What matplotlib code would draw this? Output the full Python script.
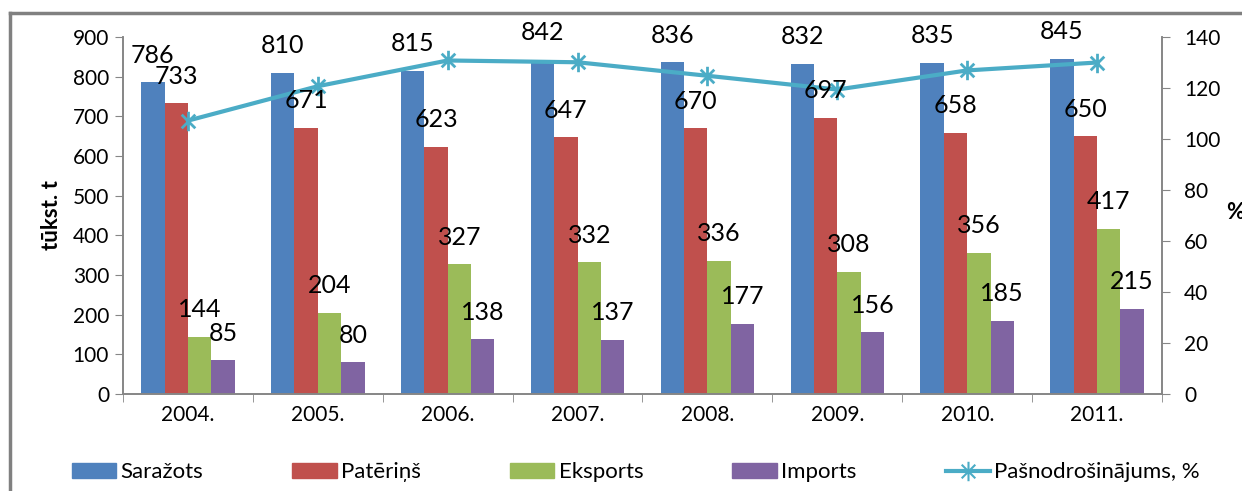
import numpy as np
import matplotlib
matplotlib.use("Agg")
import matplotlib.pyplot as plt
from matplotlib.path import Path
from matplotlib.patches import Patch
from matplotlib.lines import Line2D

plt.rcParams['font.family'] = ['Lato', 'DejaVu Sans']

years = ['2004.', '2005.', '2006.', '2007.', '2008.', '2009.', '2010.', '2011.']
sarazots = [786, 810, 815, 842, 836, 832, 835, 845]
pateris = [733, 671, 623, 647, 670, 697, 658, 650]
eksports = [144, 204, 327, 332, 336, 308, 356, 417]
imports = [85, 80, 138, 137, 177, 156, 185, 215]
pasnodr = [107.2, 120.7, 130.8, 130.1, 124.8, 119.4, 126.9, 130.0]

series = [
    ('Saražots', sarazots, '#4F81BD'),
    ('Patēriņš', pateris, '#C0504D'),
    ('Eksports', eksports, '#9BBB59'),
    ('Imports', imports, '#8064A2'),
]
LINE_COLOR = '#4BACC6'
AXIS_COLOR = '#868686'

# excel style star marker: vertical bar + X
star = Path([(0, -1), (0, 1), (-0.7, -0.7), (0.7, 0.7), (-0.7, 0.7), (0.7, -0.7)],
            [Path.MOVETO, Path.LINETO, Path.MOVETO, Path.LINETO, Path.MOVETO, Path.LINETO])

fig = plt.figure(figsize=(12.42, 4.91), dpi=100)
ax = fig.add_axes([0.099, 0.1976, 0.8366, 0.727])
ax2 = ax.twinx()

x = np.arange(len(years))
w = 0.18
for i, (name, vals, col) in enumerate(series):
    xs = x + (i - 1.5) * w
    ax.bar(xs, vals, w, color=col, zorder=2)
    for xi, v in zip(xs, vals):
        ax2.annotate(str(v), (xi, v), xycoords=ax.transData, xytext=(0, 19.5),
                     textcoords='offset points', ha='center', va='center',
                     fontsize=18, color='black', zorder=5)

ax2.plot(x, pasnodr, color=LINE_COLOR, lw=3, marker=star, ms=14,
         mew=2, mec=LINE_COLOR, zorder=3)

ax.set_xlim(-0.5, len(years) - 0.5)
ax.set_ylim(0, 900)
ax.set_yticks(np.arange(0, 901, 100))
ax2.set_ylim(0, 140)
ax2.set_yticks(np.arange(0, 141, 20))

ax.set_xticks(x)
ax.set_xticklabels(years)
ax.set_xticks(np.arange(len(years) + 1) - 0.5, minor=True)
ax.tick_params(axis='x', which='major', length=0, pad=8, labelsize=15)
ax.tick_params(axis='x', which='minor', length=6, color=AXIS_COLOR, direction='out')
ax.tick_params(axis='y', length=6, color=AXIS_COLOR, labelsize=15, pad=4)
ax2.tick_params(axis='y', length=6, color=AXIS_COLOR, labelsize=15, pad=10)

for a in (ax, ax2):
    a.spines['top'].set_visible(False)
    for s in ('left', 'right', 'bottom'):
        a.spines[s].set_color(AXIS_COLOR)
        a.spines[s].set_linewidth(1.2)

ax.set_ylabel('tūkst. t', fontsize=16, fontweight='bold', labelpad=8)
fig.text(0.987, 0.568, '%', fontsize=16, fontweight='bold', ha='left', va='center')

handles = [Patch(color=c) for _, _, c in series]
handles.append(Line2D([], [], color=LINE_COLOR, lw=3, marker=star, ms=14, mew=1.5))
labels = [s[0] for s in series] + ['Pašnodrošinājums, %']
fig.legend(handles, labels, loc='center', bbox_to_anchor=(0.512, 0.038), ncol=5,
           frameon=False, fontsize=16, handlelength=2.0, handleheight=0.6,
           columnspacing=4.0, handletextpad=0.2)

# outer chart frame
fig.add_artist(Line2D([10 / 1242, 10 / 1242], [0, 1 - 13 / 491], color='#808080', lw=2.5,
                      transform=fig.transFigure))
fig.add_artist(Line2D([10 / 1242, 1], [1 - 13 / 491, 1 - 13 / 491], color='#808080', lw=2.5,
                      transform=fig.transFigure))

fig.savefig('out.png', dpi=100)
